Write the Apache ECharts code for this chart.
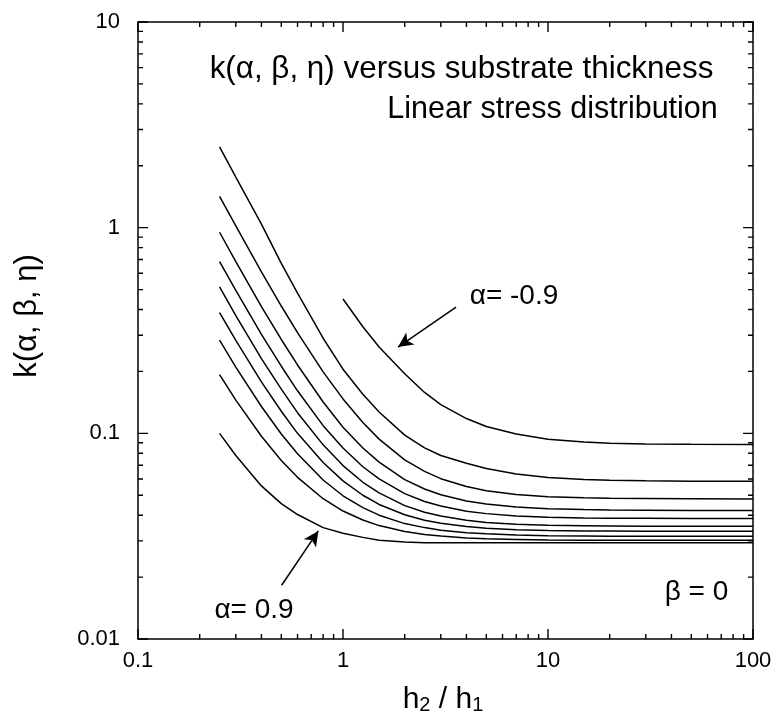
<!DOCTYPE html>
<html><head><meta charset="utf-8">
<script src="https://cdn.jsdelivr.net/npm/echarts@6/dist/echarts.min.js"></script>
<style>html,body{margin:0;padding:0;background:#fff}#c{width:776px;height:726px}</style>
</head><body><div id="c"></div>
<script>
// h2/h1 sample points
const ratio = [0.25,0.3,0.4,0.5,0.6,0.8,1,1.25,1.5,2,2.5,3,4,5,7,10,15,20,30,50,100];
// k(alpha, beta=0, eta), one array per alpha
const kAm09 = [null,null,null,null,null,null,0.45,0.33,0.263,0.195,0.158,0.138,0.118,0.108,0.0993,0.0937,0.0908,0.0895,0.0887,0.0884,0.0882];
const kAm07 = [2.47,1.76,1.04,0.67,0.48,0.29,0.205,0.155,0.127,0.098,0.085,0.078,0.0715,0.0675,0.0635,0.061,0.0597,0.0592,0.0588,0.0585,0.0584];
const kAm05 = [1.42,1.02,0.609,0.416,0.309,0.199,0.147,0.113,0.0937,0.0743,0.0653,0.0602,0.0551,0.0526,0.0504,0.0492,0.0486,0.0483,0.0482,0.0481,0.048];
const kAm03 = [0.95,0.684,0.413,0.286,0.215,0.142,0.107,0.0849,0.0724,0.0596,0.0536,0.0503,0.0469,0.0453,0.0438,0.043,0.0426,0.0424,0.0423,0.0422,0.0422];
const kAm01 = [0.684,0.495,0.303,0.212,0.161,0.109,0.0848,0.0688,0.060,0.0509,0.0466,0.0443,0.0418,0.0407,0.0396,0.0391,0.0388,0.0387,0.0386,0.0385,0.0385];
const kAp01 = [0.515,0.374,0.231,0.164,0.126,0.0879,0.0697,0.0578,0.0513,0.0445,0.0413,0.0396,0.0378,0.0369,0.0361,0.0357,0.0355,0.0354,0.0353,0.0353,0.0353];
const kAp03 = [0.386,0.283,0.178,0.128,0.100,0.0721,0.0587,0.050,0.0451,0.0402,0.0378,0.0365,0.0352,0.0346,0.034,0.0337,0.0335,0.0335,0.0334,0.0334,0.0334];
const kAp05 = [0.284,0.21,0.135,0.0992,0.0796,0.0593,0.0497,0.0435,0.040,0.0364,0.0348,0.0338,0.0329,0.0325,0.032,0.0318,0.0317,0.0316,0.0316,0.0316,0.0316];
const kAp07 = [0.193,0.145,0.0968,0.0738,0.0611,0.0481,0.0419,0.0379,0.0356,0.0333,0.0322,0.0317,0.031,0.0307,0.0305,0.0303,0.0302,0.0302,0.0302,0.0302,0.0302];
const kAp09 = [0.100,0.078,0.0555,0.0455,0.0403,0.0348,0.0327,0.0312,0.0302,0.0296,0.0294,0.0294,0.0294,0.0294,0.0294,0.0294,0.0294,0.0294,0.0294,0.0294,0.0294];
const curves = [kAm09,kAm07,kAm05,kAm03,kAm01,kAp01,kAp03,kAp05,kAp07,kAp09];
const curveNames = ['α=-0.9','α=-0.7','α=-0.5','α=-0.3','α=-0.1','α=0.1','α=0.3','α=0.5','α=0.7','α=0.9'];

// axis ticks
const xTickLabels = ['0.1','1','10','100'];
const yTickLabels = ['0.01','0.1','1','10'];
const xMajorTicks = [0.1,1,10,100];
const yMajorTicks = [0.01,0.1,1,10];
const xMinorTicks = [0.2,0.3,0.4,0.5,0.6,0.7,0.8,0.9,2,3,4,5,6,7,8,9,20,30,40,50,60,70,80,90];
const yMinorTicks = [0.02,0.03,0.04,0.05,0.06,0.07,0.08,0.09,0.2,0.3,0.4,0.5,0.6,0.7,0.8,0.9,2,3,4,5,6,7,8,9];
const X_MIN = 0.1, X_MAX = 100, Y_MIN = 0.01, Y_MAX = 10;
// tick lengths as multiplicative factors along a log axis (about 10 px and 5 px)
const TICK_MAJOR = 1.118, TICK_MINOR = 1.058;

// arrows: [tail, head] in data coordinates
const arrowMinus = [[3.56,0.411],[1.855,0.2627]];
const arrowPlus = [[0.502,0.01825],[0.758,0.03354]];

const FONT = '"Liberation Sans", Arial, Helvetica, sans-serif';
const fmt = v => String(+v.toPrecision(4));

const majorX = (pos, labels) => ({
  type:'log', min:X_MIN, max:X_MAX, logBase:10, position:pos,
  axisLine:{show:true, onZero:false, lineStyle:{color:'#000', width:1.5}},
  axisTick:{show:false},
  axisLabel:{show:labels, fontSize:22, margin:11, color:'#000', fontFamily:FONT,
    formatter: v => xTickLabels.find(t => Math.abs(+t - v) < 1e-6 * v) || fmt(v)},
  splitLine:{show:false}, minorTick:{show:false}
});
const majorY = (pos, labels) => ({
  type:'log', min:Y_MIN, max:Y_MAX, logBase:10, position:pos,
  axisLine:{show:true, onZero:false, lineStyle:{color:'#000', width:1.5}},
  axisTick:{show:false},
  axisLabel:{show:labels, fontSize:22, margin:18, color:'#000', fontFamily:FONT,
    formatter: v => yTickLabels.find(t => Math.abs(+t - v) < 1e-6 * v) || fmt(v)},
  splitLine:{show:false}, minorTick:{show:false}
});

const series = curves.map((ys, i) => ({
  type:'line', name:curveNames[i], xAxisIndex:0, yAxisIndex:0,
  data: ratio.map((x, j) => [x, ys[j]]).filter(p => p[1] != null),
  showSymbol:false, symbol:'none', smooth:false,
  lineStyle:{color:'#000', width:1.5}, silent:true
}));
series[0].markLine = {
  silent:true, symbol:['none','arrow'], symbolSize:[11,15],
  lineStyle:{color:'#000', width:1.5, type:'solid'}, label:{show:false},
  data:[
    [{coord:arrowMinus[0]},{coord:arrowMinus[1]}],
    [{coord:arrowPlus[0]},{coord:arrowPlus[1]}]
  ]
};

// tick marks on all four sides as short broken line segments in data space
const tickData = [];
const GAP = ['-', '-'];
xMajorTicks.map(v => [v, TICK_MAJOR]).concat(xMinorTicks.map(v => [v, TICK_MINOR])).forEach(([v, f]) => {
  tickData.push([v, Y_MIN], [v, Y_MIN * f], GAP, [v, Y_MAX], [v, Y_MAX / f], GAP);
});
yMajorTicks.map(v => [v, TICK_MAJOR]).concat(yMinorTicks.map(v => [v, TICK_MINOR])).forEach(([v, f]) => {
  tickData.push([X_MIN, v], [X_MIN * f, v], GAP, [X_MAX, v], [X_MAX / f, v], GAP);
});
series.push({
  type:'line', name:'ticks', xAxisIndex:0, yAxisIndex:0, data:tickData,
  showSymbol:false, symbol:'none', connectNulls:false, clip:false, silent:true,
  lineStyle:{color:'#000', width:1.4}
});

const texts = [
  {type:'text', x:461.5, y:69, style:{text:'k(α, β, η) versus substrate thickness', fontSize:31.4, fontFamily:FONT, fill:'#000', align:'center', verticalAlign:'middle'}},
  {type:'text', x:552.5, y:110, style:{text:'Linear stress distribution', fontSize:30.5, fontFamily:FONT, fill:'#000', align:'center', verticalAlign:'middle'}},
  {type:'text', x:514, y:296, style:{text:'α= -0.9', fontSize:28, fontFamily:FONT, fill:'#000', align:'center', verticalAlign:'middle'}},
  {type:'text', x:254, y:610, style:{text:'α= 0.9', fontSize:28, fontFamily:FONT, fill:'#000', align:'center', verticalAlign:'middle'}},
  {type:'text', x:696.5, y:592, style:{text:'β = 0', fontSize:28, fontFamily:FONT, fill:'#000', align:'center', verticalAlign:'middle'}},
  {type:'text', x:27, y:316, rotation:Math.PI/2, style:{text:'k(α, β, η)', fontSize:31, fontFamily:FONT, fill:'#000', align:'center', verticalAlign:'middle'}},
  {type:'text', x:443, y:700, style:{text:'{m|h}{s|2}{m| / h}{s|1}', fontFamily:FONT, fill:'#000', align:'center', verticalAlign:'middle',
    rich:{m:{fontSize:30, fontFamily:FONT, lineHeight:30}, s:{fontSize:20, fontFamily:FONT, lineHeight:8, verticalAlign:'bottom'}}}}
];

const chart = echarts.init(document.getElementById('c'), null, {renderer:'canvas'});
chart.setOption({
  animation:false,
  backgroundColor:'#fff',
  grid:{left:138, right:23, top:22, bottom:87, containLabel:false},
  xAxis:[majorX('bottom', true), majorX('top', false)],
  yAxis:[majorY('left', true), majorY('right', false)],
  series: series,
  graphic: texts
});
</script></body></html>
